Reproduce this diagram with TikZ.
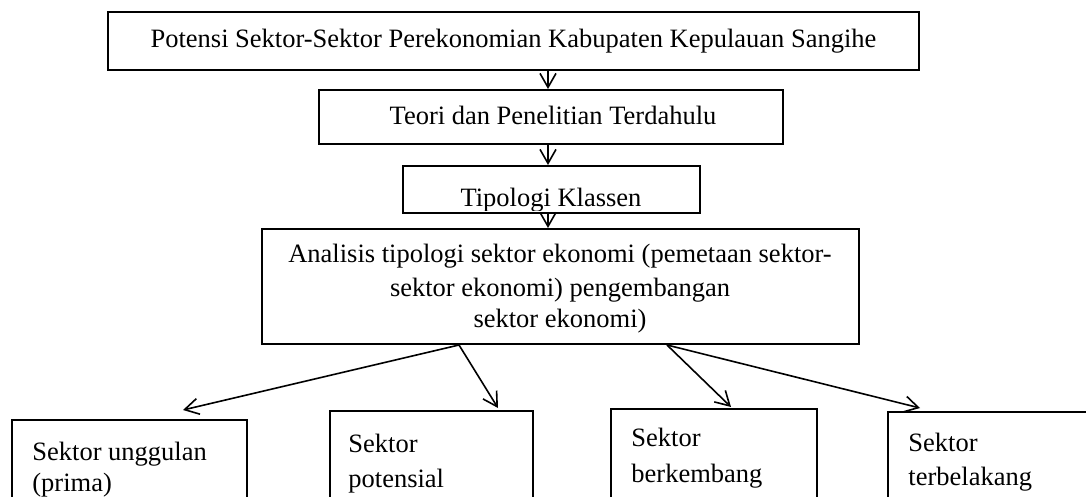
\documentclass[tikz,border=0pt]{standalone}
\usepackage{fontspec}
\setmainfont{Liberation Serif}
\usetikzlibrary{arrows.meta}
\begin{document}
\begin{tikzpicture}[x=0.5pt,y=-0.5pt,
  box/.style={draw, line width=1pt, inner sep=0pt, rectangle},
  lbl/.style={inner sep=0pt, font=\fontsize{13.25pt}{16pt}\selectfont},
  conn/.style={line width=0.8pt, -{Straight Barb[length=7pt,width=8pt,line width=0.8pt]}}]
\clip (0,0) rectangle (1086,497);
\fill[white] (0,0) rectangle (1086,497);
% main boxes
\node[box, minimum width=405.5pt, minimum height=29pt] (b1) at (513.5,41) {};
\node[box, minimum width=232pt, minimum height=27pt] (b2) at (551,117) {};
\node[box, minimum width=148.5pt, minimum height=23.5pt] (b3) at (551.5,189.5) {};
\node[box, minimum width=298.5pt, minimum height=57.5pt] (b4) at (560.5,286.5) {};
% sector boxes (cut by lower edge)
\node[box, anchor=north west, minimum width=117.5pt, minimum height=65pt] (s1) at (11,418.5) {};
\node[box, anchor=north west, minimum width=101.5pt, minimum height=65pt] (s2) at (329,410) {};
\node[box, anchor=north west, minimum width=103pt, minimum height=65pt] (s3) at (610,408) {};
\node[box, anchor=north west, minimum width=111.5pt, minimum height=65pt] (s4) at (887,411) {};
% texts
\node[lbl, anchor=base] (t1) at (513.5,48) {Potensi Sektor-Sektor Perekonomian Kabupaten Kepulauan Sangihe};
\node[lbl, anchor=base] (t2) at (553,125) {Teori dan Penelitian Terdahulu};
\begin{scope}
  \clip (403,166) rectangle (700,210.5);
  \node[lbl, anchor=base] (t3) at (551,207) {Tipologi Klassen};
\end{scope}
\node[lbl, anchor=base] (t4a) at (560,263) {Analisis tipologi sektor ekonomi (pemetaan sektor-};
\node[lbl, anchor=base] (t4b) at (560,296) {sektor ekonomi) pengembangan};
\node[lbl, anchor=base] (t4c) at (560,327) {sektor ekonomi)};
\node[lbl, anchor=base west] (u1) at (32,460) {Sektor unggulan};
\node[lbl, anchor=base west] (u2) at (32,491) {(prima)};
\node[lbl, anchor=base west] (p1) at (348,452) {Sektor};
\node[lbl, anchor=base west] (p2) at (348,487) {potensial};
\node[lbl, anchor=base west] (k1) at (631,446) {Sektor};
\node[lbl, anchor=base west] (k2) at (631,482) {berkembang};
\node[lbl, anchor=base west] (l1) at (908,451) {Sektor};
\node[lbl, anchor=base west] (l2) at (908,485) {terbelakang};
% connector helper coordinates
\coordinate (ax) at (548,0);
\coordinate (pL) at (459,0);
\coordinate (pR) at (667,0);
\coordinate (e1) at (183,410);
\coordinate (e2) at (498,408);
\coordinate (e3) at (731,407);
\coordinate (e4) at (920,408);
% connectors
\draw[conn] (b1.south -| ax) -- (b2.north -| ax);
\draw[conn] (b2.south -| ax) -- (b3.north -| ax);
\draw[conn] (b3.south -| ax) -- (b4.north -| ax);
\draw[conn] (b4.south -| pL) -- (e1);
\draw[conn] (b4.south -| pL) -- (e2);
\draw[conn] (b4.south -| pR) -- (e3);
\draw[conn] (b4.south -| pR) -- (e4);
\end{tikzpicture}
\end{document}
